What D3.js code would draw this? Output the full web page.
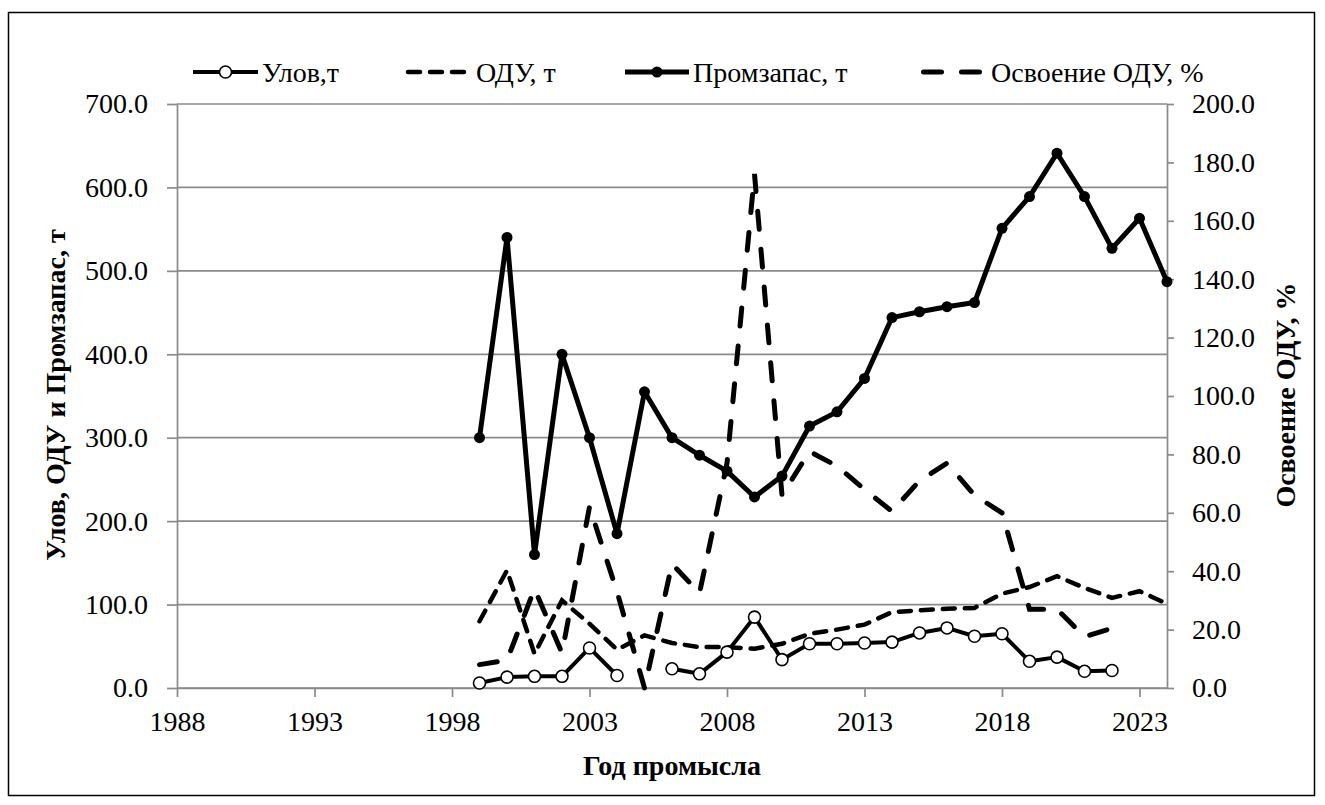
<!DOCTYPE html>
<html>
<head>
<meta charset="utf-8">
<script src="https://cdn.jsdelivr.net/npm/d3@7"></script>
<style>
  body { margin: 0; background: #fff; }
</style>
</head>
<body>
<script>

// years of the fishery
const years = [1999, 2000, 2001, 2002, 2003, 2004, 2005, 2006, 2007, 2008, 2009, 2010, 2011,
               2012, 2013, 2014, 2015, 2016, 2017, 2018, 2019, 2020, 2021, 2022, 2023, 2024];

// Улов, т
const catchT = [6, 13, 14, 14, 48, 15, null, 23, 17, 43, 85, 34, 53,
                53, 54, 55, 66, 72, 62, 65, 32, 37, 20, 21, null, null];
// ОДУ, т
const oduT = [80, 141, 41, 105, 77, 46, 63, 54, 49, 49, 47, 53, 65,
              70, 76, 91, 93, 95, 96, 113, 121, 134, 120, 108, 116, 101];
// Промзапас, т
const stockT = [300, 540, 160, 400, 300, 185, 355, 300, 279, 260, 229, 254, 314,
                331, 371, 444, 451, 457, 462, 551, 589, 641, 589, 527, 563, 487];
// Освоение ОДУ, %
const usePct = [8, 9.5, 34, 12, 62, 33, 0, 42.5, 32.5, 77, 176, 66, 81,
                76, 68, 60.5, 71, 77, 66, 60, 27, 27, 17.5, 20.5, null, null];

const leftTicks = d3.range(0, 701, 100);
const rightTicks = d3.range(0, 201, 20);
const yearTicks = d3.range(1988, 2024, 5);

const legendItems = ["Улов,т", "ОДУ, т", "Промзапас, т", "Освоение ОДУ, %"];

const width = 1325, height = 805;
const plot = {left: 177, right: 1167, top: 104, bottom: 688};

// pick the first serif face that is really installed
let pickFont = () => {
    const ctx = document.createElement("canvas").getContext("2d");
    const probe = "Промзапас 0123456789 Wmil";
    ctx.font = "40px monospace";
    const base = ctx.measureText(probe).width;
    const names = ["Liberation Serif", "Times New Roman", "Tinos", "DejaVu Serif", "Noto Serif", "FreeSerif"];
    for (const n of names) {
        ctx.font = "40px '" + n + "', monospace";
        if (Math.abs(ctx.measureText(probe).width - base) > 0.5) return "'" + n + "', serif";
    }
    return "serif";
};
const serif = pickFont();

let svg = d3.select("body").append("svg")
    .attr("width", width)
    .attr("height", height)
    .style("font-family", serif);

// chart frame
svg.append("rect")
    .attr("x", 8.5).attr("y", 12.5)
    .attr("width", 1306).attr("height", 783)
    .attr("fill", "none")
    .attr("stroke", "#000")
    .attr("stroke-width", 1.5);

let x = d3.scaleLinear().domain([1988, 2024]).range([plot.left, plot.right]);
let yL = d3.scaleLinear().domain([0, 700]).range([plot.bottom, plot.top]);
let yR = d3.scaleLinear().domain([0, 200]).range([plot.bottom, plot.top]);

const grey = "#8a8a8a";

// gridlines
svg.append("g").attr("class", "grid")
    .selectAll("line")
    .data(leftTicks)
    .enter()
    .append("line")
    .attr("x1", plot.left).attr("x2", plot.right)
    .attr("y1", d => yL(d)).attr("y2", d => yL(d))
    .attr("stroke", grey)
    .attr("stroke-width", 1.7);

let styleAxis = (g) => {
    g.attr("font-family", serif).attr("font-size", 28);
    g.select(".domain").attr("stroke", grey).attr("stroke-width", 1.7);
    g.selectAll(".tick line").attr("stroke", grey).attr("stroke-width", 1.7);
    g.selectAll(".tick text")
        .style("font-family", serif)
        .style("font-size", "28px")
        .attr("fill", "#000");
};

svg.append("g")
    .attr("transform", "translate(" + plot.left + ",0)")
    .call(d3.axisLeft(yL).tickValues(leftTicks).tickSize(10).tickSizeOuter(0)
        .tickPadding(19).tickFormat(d3.format(".1f")))
    .call(styleAxis);

svg.append("g")
    .attr("transform", "translate(" + plot.right + ",0)")
    .call(d3.axisRight(yR).tickValues(rightTicks).tickSize(7).tickSizeOuter(0)
        .tickPadding(18).tickFormat(d3.format(".1f")))
    .call(styleAxis);

svg.append("g")
    .attr("transform", "translate(0," + plot.bottom + ")")
    .call(d3.axisBottom(x).tickValues(yearTicks).tickSize(9).tickSizeOuter(0)
        .tickPadding(14).tickFormat(d3.format("d")))
    .call(styleAxis);

// axis titles
let title = (sel) => sel
    .attr("text-anchor", "middle")
    .attr("dy", "0.35em")
    .style("font-family", serif)
    .style("font-size", "28px")
    .style("font-weight", "bold");

svg.append("text")
    .attr("transform", "translate(55,395) rotate(-90)")
    .call(title)
    .text("Улов, ОДУ и Промзапас, т");

svg.append("text")
    .attr("transform", "translate(1285,395) rotate(-90)")
    .call(title)
    .text("Освоение ОДУ, %");

svg.append("text")
    .attr("x", (plot.left + plot.right) / 2).attr("y", 765)
    .call(title)
    .text("Год промысла");

// series
let rows = years.map((yr, i) => ({year: yr, c: catchT[i], o: oduT[i], s: stockT[i], p: usePct[i]}));

let lineOf = (key, scale) => d3.line()
    .defined(d => d[key] != null)
    .x(d => x(d.year))
    .y(d => scale(d[key]));

svg.append("path").datum(rows)
    .attr("d", lineOf("o", yL))
    .attr("fill", "none").attr("stroke", "#000")
    .attr("stroke-width", 4.5).attr("stroke-linecap", "round")
    .attr("stroke-dasharray", "12,10");

svg.append("path").datum(rows)
    .attr("d", lineOf("p", yR))
    .attr("fill", "none").attr("stroke", "#000")
    .attr("stroke-width", 5).attr("stroke-linecap", "round")
    .attr("stroke-dasharray", "18,20");

svg.append("path").datum(rows)
    .attr("d", lineOf("s", yL))
    .attr("fill", "none").attr("stroke", "#000")
    .attr("stroke-width", 5).attr("stroke-linejoin", "round");

svg.append("g").selectAll("circle")
    .data(rows.filter(d => d.s != null))
    .enter()
    .append("circle")
    .attr("cx", d => x(d.year)).attr("cy", d => yL(d.s))
    .attr("r", 5.5).attr("fill", "#000");

svg.append("path").datum(rows)
    .attr("d", lineOf("c", yL))
    .attr("fill", "none").attr("stroke", "#000")
    .attr("stroke-width", 4).attr("stroke-linejoin", "round");

svg.append("g").selectAll("circle")
    .data(rows.filter(d => d.c != null))
    .enter()
    .append("circle")
    .attr("cx", d => x(d.year)).attr("cy", d => yL(d.c))
    .attr("r", 6).attr("fill", "#fff")
    .attr("stroke", "#000").attr("stroke-width", 1.6);

// legend
const legendY = 72;
let legend = svg.append("g").attr("class", "legend");

let legendPos = [{x1: 193, x2: 258, tx: 262}, {x1: 406, x2: 469, tx: 476},
                 {x1: 625, x2: 689, tx: 693}, {x1: 921, x2: 985, tx: 991}];

legend.append("line")
    .attr("x1", legendPos[0].x1).attr("x2", legendPos[0].x2)
    .attr("y1", legendY).attr("y2", legendY)
    .attr("stroke", "#000").attr("stroke-width", 4);
legend.append("circle")
    .attr("cx", (legendPos[0].x1 + legendPos[0].x2) / 2).attr("cy", legendY)
    .attr("r", 6).attr("fill", "#fff").attr("stroke", "#000").attr("stroke-width", 1.6);

legend.append("line")
    .attr("x1", legendPos[1].x1 + 2).attr("x2", legendPos[1].x2)
    .attr("y1", legendY).attr("y2", legendY)
    .attr("stroke", "#000").attr("stroke-width", 4.5)
    .attr("stroke-linecap", "round").attr("stroke-dasharray", "12,10");

legend.append("line")
    .attr("x1", legendPos[2].x1).attr("x2", legendPos[2].x2)
    .attr("y1", legendY).attr("y2", legendY)
    .attr("stroke", "#000").attr("stroke-width", 5);
legend.append("circle")
    .attr("cx", (legendPos[2].x1 + legendPos[2].x2) / 2).attr("cy", legendY)
    .attr("r", 5.5).attr("fill", "#000");

legend.append("line")
    .attr("x1", legendPos[3].x1 + 2.5).attr("x2", legendPos[3].x2)
    .attr("y1", legendY).attr("y2", legendY)
    .attr("stroke", "#000").attr("stroke-width", 5)
    .attr("stroke-linecap", "round").attr("stroke-dasharray", "18,20");

legend.selectAll("text")
    .data(legendItems)
    .enter()
    .append("text")
    .attr("x", (d, i) => legendPos[i].tx)
    .attr("y", legendY)
    .attr("dy", "0.35em")
    .style("font-family", serif)
    .style("font-size", "28px")
    .text(d => d);

</script>
</body>
</html>
